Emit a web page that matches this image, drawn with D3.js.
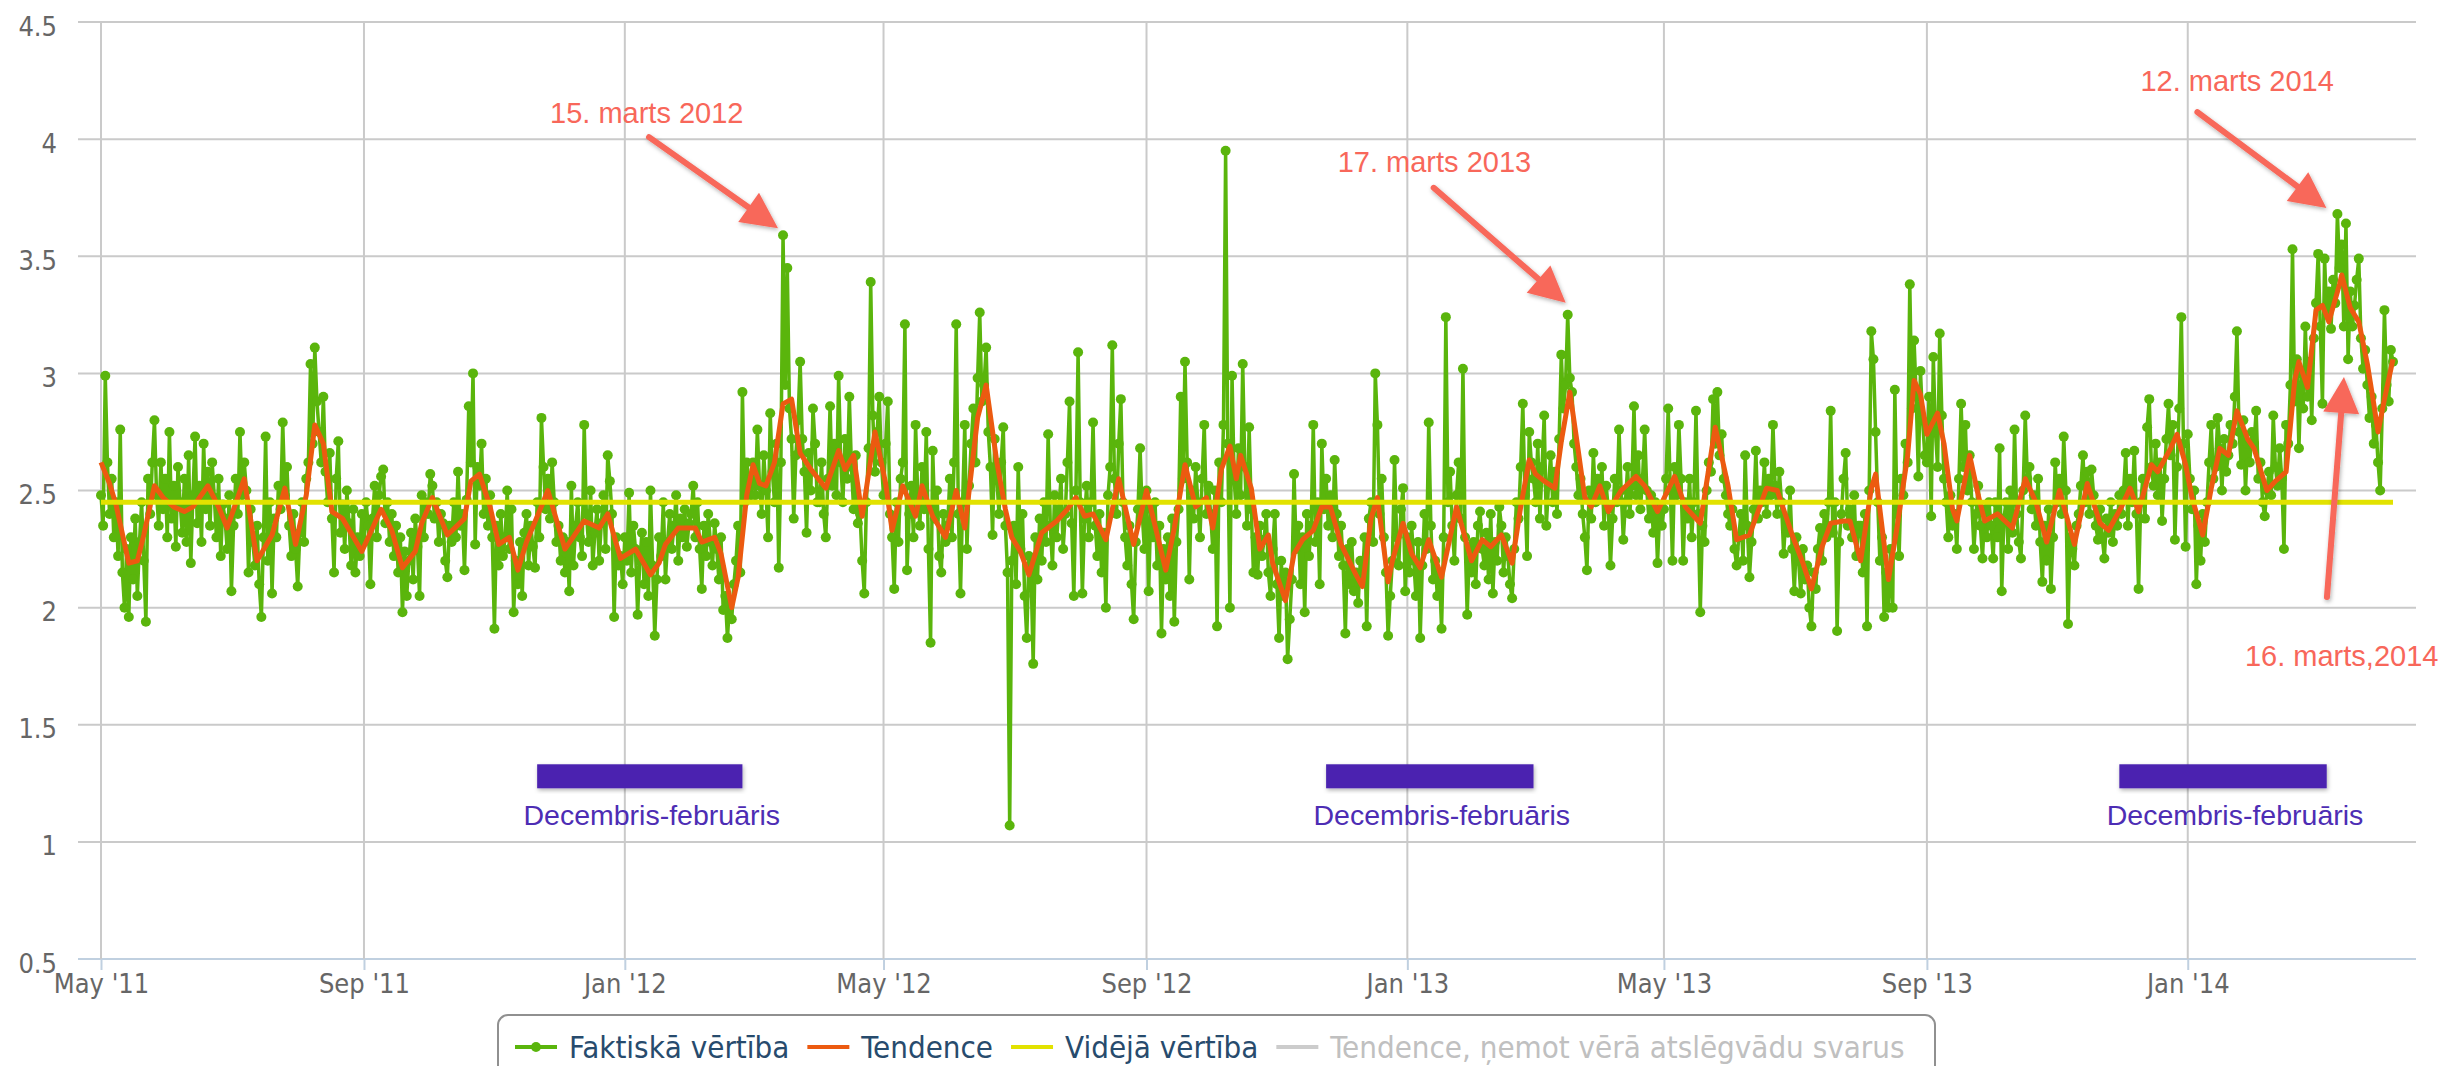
<!DOCTYPE html>
<html>
<head>
<meta charset="utf-8">
<script src="https://cdn.jsdelivr.net/npm/d3@7"></script>
<style>
html, body { margin: 0; padding: 0; background: #fff; overflow: hidden; }
svg { display: block; }
</style>
</head>
<body>
<div id="chart"></div>
<script>
"use strict"

// Daily values ("Faktiskā vērtība"), one array per year, one line per month
var actual2011 = [ // starts 2011-05-01
  2.48,2.35,2.99,2.62,2.40,2.55,2.30,2.45,2.22,2.76,2.15,2.00,2.25,1.96,2.30,2.12,2.38,2.05,2.28,2.45,2.20,1.94,2.55,2.40,2.62,2.80,2.48,2.35,2.62,2.42,2.55,
  2.30,2.75,2.38,2.52,2.26,2.60,2.45,2.32,2.55,2.28,2.65,2.19,2.48,2.73,2.36,2.52,2.28,2.70,2.42,2.58,2.35,2.62,2.47,2.30,2.55,2.22,2.44,2.38,2.25,2.48,
  2.07,2.35,2.55,2.40,2.75,2.48,2.62,2.50,2.15,2.42,2.28,2.18,2.35,2.10,1.96,2.30,2.73,2.20,2.45,2.06,2.38,2.30,2.52,2.42,2.79,2.48,2.60,2.35,2.22,2.40,2.25,
  2.09,2.32,2.45,2.28,2.55,2.62,3.04,2.70,3.11,2.88,2.75,2.62,2.90,2.58,2.45,2.66,2.38,2.15,2.55,2.71,2.32,2.44,2.25,2.50,2.36,2.18,2.42,2.15,2.30,2.22,2.40,
  2.28,2.45,2.35,2.10,2.38,2.52,2.30,2.48,2.56,2.59,2.36,2.45,2.28,2.40,2.22,2.35,2.15,2.30,1.98,2.24,2.05,2.20,2.32,2.12,2.38,2.26,2.05,2.48,2.30,2.45,
  2.40,2.57,2.52,2.38,2.45,2.28,2.40,2.36,2.20,2.13,2.35,2.28,2.45,2.30,2.58,2.35,2.40,2.16,2.46,2.86,2.62,3.00,2.27,2.60,2.52,2.70,2.40,2.55,2.35,2.48,2.30,
  1.91,2.35,2.18,2.40,2.22,2.30,2.50,2.25,2.42,1.98,2.20,2.10,2.28,2.05,2.32,2.40,2.18,2.35,2.26,2.17,2.45,2.30,2.81,2.60,2.42,2.55,2.38,2.62,2.45,2.28,
  2.35,2.20,2.30,2.15,2.28,2.07,2.52,2.18,2.35,2.45,2.30,2.22,2.78,2.40,2.28,2.50,2.18,2.32,2.42,2.20,2.36,2.48,2.25,2.65,2.54,2.40,1.96,2.30,2.18,2.22,2.10
];
var actual2012 = [ // starts 2012-01-01
  2.30,2.20,2.49,2.15,2.35,2.25,1.97,2.20,2.32,2.10,2.28,2.05,2.50,2.18,1.88,2.12,2.30,2.22,2.45,2.12,2.28,2.40,2.25,2.35,2.48,2.20,2.38,2.30,2.42,2.26,2.36,
  2.40,2.52,2.30,2.45,2.25,2.08,2.35,2.22,2.40,2.28,2.18,2.36,2.25,2.12,2.30,1.99,2.05,1.87,2.02,1.95,2.10,2.20,2.35,2.15,2.92,2.45,2.62,2.55,2.48,
  2.62,2.48,2.76,2.52,2.40,2.65,2.50,2.30,2.83,2.58,2.45,2.70,2.17,2.62,3.59,2.95,3.45,2.85,2.72,2.38,2.65,2.80,3.05,2.72,2.58,2.32,2.66,2.50,2.85,2.70,2.45,
  2.45,2.62,2.40,2.30,2.55,2.86,2.52,2.70,2.48,2.99,2.62,2.45,2.72,2.55,2.90,2.60,2.42,2.65,2.36,2.40,2.20,2.06,2.45,2.68,3.39,2.82,2.58,2.75,2.90,2.62,
  2.48,2.70,2.88,2.40,2.30,2.08,2.45,2.28,2.55,2.62,3.21,2.16,2.40,2.52,2.30,2.78,2.48,2.35,2.60,2.42,2.75,2.25,1.85,2.67,2.38,2.50,2.22,2.15,2.40,2.28,2.35,
  2.55,2.30,2.62,3.21,2.40,2.06,2.45,2.78,2.25,2.52,2.70,2.85,2.62,2.98,3.26,2.88,2.95,3.11,2.75,2.60,2.31,2.72,2.55,2.40,2.62,2.77,2.35,2.15,1.07,2.20,
  2.35,2.10,2.60,2.25,2.40,2.05,1.87,2.22,2.15,1.76,2.30,2.12,2.38,2.20,2.45,2.28,2.74,2.35,2.18,2.48,2.30,2.42,2.55,2.25,2.40,2.62,2.88,2.36,2.05,2.50,3.09,
  2.45,2.06,2.38,2.52,2.30,2.45,2.79,2.35,2.22,2.40,2.15,2.32,2.00,2.48,2.60,3.12,2.55,2.40,2.70,2.89,2.45,2.30,2.18,2.35,2.10,1.95,2.28,2.42,2.68,2.40,2.25,
  2.50,2.07,2.42,2.30,2.45,2.18,2.35,1.89,2.25,2.12,2.30,2.05,2.38,1.94,2.28,2.42,2.90,2.55,3.05,2.62,2.12,2.50,2.38,2.60,2.45,2.30,2.55,2.78,2.40,2.52,
  2.40,2.25,2.50,1.92,2.62,2.45,2.78,3.95,2.70,2.00,2.99,2.55,2.40,2.68,2.48,3.04,2.60,2.35,2.77,2.42,2.15,2.30,2.14,2.35,2.22,2.29,2.40,2.15,2.05,2.25,2.40,
  2.10,1.87,2.20,2.05,2.15,1.78,1.95,2.12,2.57,2.25,2.35,2.10,2.30,1.98,2.40,2.22,2.35,2.78,2.28,2.45,2.10,2.70,2.42,2.55,2.35,2.48,2.30,2.63,2.40,2.22,
  2.35,2.18,1.89,2.25,2.10,2.28,2.07,2.15,2.02,2.20,2.12,2.30,1.92,2.38,2.45,2.28,3.00,2.78,2.40,2.55,2.30,2.15,1.88,2.05,2.20,2.63,2.30,2.18,2.42,2.51,2.07
];
var actual2013 = [ // starts 2013-01-01
  2.30,2.15,2.35,2.20,2.05,2.28,1.87,2.18,2.40,2.25,2.79,2.35,2.12,2.20,2.05,2.15,1.91,2.30,3.24,2.45,2.58,2.35,2.20,2.48,2.62,2.38,3.02,2.30,1.97,2.25,2.15,
  2.28,2.10,2.35,2.41,2.25,2.18,2.32,2.12,2.40,2.06,2.28,2.20,2.43,2.35,2.15,2.30,2.22,2.10,2.04,2.25,2.45,2.38,2.60,2.87,2.48,2.22,2.75,2.62,
  2.55,2.45,2.70,2.38,2.60,2.82,2.35,2.52,2.65,2.45,2.58,2.40,2.72,3.08,2.85,2.95,3.25,2.98,2.92,2.70,2.60,2.48,2.55,2.40,2.30,2.16,2.50,2.38,2.66,2.45,2.55,
  2.48,2.60,2.35,2.52,2.42,2.18,2.38,2.55,2.45,2.76,2.50,2.29,2.45,2.60,2.40,2.52,2.86,2.48,2.65,2.42,2.55,2.76,2.50,2.38,2.48,2.32,2.45,2.19,2.40,2.35,
  2.42,2.55,2.85,2.50,2.20,2.60,2.48,2.78,2.55,2.20,2.45,2.38,2.55,2.30,2.45,2.84,2.40,1.98,2.35,2.28,2.50,2.62,2.58,2.89,2.70,2.92,2.65,2.74,2.55,2.48,2.40,
  2.35,2.42,2.25,2.18,2.30,2.40,2.20,2.65,2.35,2.13,2.28,2.42,2.67,2.38,2.50,2.45,2.62,2.40,2.55,2.48,2.78,2.52,2.40,2.58,2.45,2.23,2.38,2.32,2.50,2.25,
  2.07,2.30,2.20,2.06,2.25,2.12,2.18,2.00,1.92,2.15,2.08,2.25,2.34,2.20,2.40,2.30,2.45,2.84,2.32,2.45,1.90,2.28,2.40,2.55,2.66,2.35,2.42,2.30,2.48,2.22,2.35,
  2.35,2.15,2.40,1.92,2.50,3.18,3.06,2.75,2.45,2.20,2.30,1.96,2.15,2.00,2.25,2.00,2.93,2.40,2.22,2.55,2.48,2.70,2.62,3.38,2.85,3.14,2.90,2.56,3.01,2.80,2.65,
  2.62,2.90,2.39,3.07,2.75,2.60,3.17,2.82,2.55,2.45,2.30,2.48,2.35,2.40,2.25,2.55,2.87,2.60,2.78,2.50,2.65,2.45,2.25,2.40,2.52,2.35,2.21,2.42,2.30,2.45,
  2.35,2.21,2.45,2.30,2.68,2.07,2.38,2.45,2.25,2.50,2.32,2.76,2.40,2.28,2.21,2.50,2.82,2.55,2.60,2.42,2.48,2.35,2.55,2.28,2.11,2.35,2.20,2.42,2.08,2.30,2.62,
  2.45,2.55,2.40,2.73,2.50,1.93,2.30,2.25,2.18,2.35,2.40,2.52,2.65,2.45,2.58,2.40,2.59,2.48,2.35,2.29,2.42,2.30,2.21,2.38,2.32,2.45,2.28,2.40,2.35,2.48,
  2.40,2.50,2.66,2.35,2.55,2.45,2.67,2.40,2.08,2.45,2.55,2.38,2.77,2.89,2.60,2.52,2.70,2.48,2.62,2.37,2.55,2.72,2.87,2.65,2.78,2.29,2.60,2.85,3.24,2.70,2.26
];
var actual2014 = [ // starts 2014-01-01
  2.74,2.55,2.42,2.50,2.10,2.35,2.20,2.40,2.28,2.45,2.62,2.78,2.55,2.60,2.81,2.68,2.50,2.72,2.58,2.65,2.78,2.70,2.90,3.18,2.75,2.61,2.80,2.50,2.70,2.62,2.75,
  2.70,2.84,2.55,2.62,2.45,2.39,2.50,2.58,2.48,2.82,2.60,2.52,2.68,2.55,2.25,2.78,2.70,2.95,3.53,2.88,3.06,2.68,3.00,2.85,3.20,2.90,3.05,2.80,
  3.15,3.30,3.51,3.20,2.87,3.49,3.25,3.35,3.19,3.40,3.30,3.68,3.45,3.55,3.20,3.64,3.06,3.35,3.20,3.29,3.40,3.49,3.15,3.02,3.10,2.95,2.81,2.90,2.70,2.78,2.62,
  2.50,2.85,3.27,2.95,2.88,3.10,3.05
];
var actualStarts = ["2011-05-01", "2012-01-01", "2013-01-01", "2014-01-01"];

// "Tendence"
var trend2011 = [
  ["2011-05-01",2.62],["2011-05-05",2.53],["2011-05-08",2.44],["2011-05-14",2.19],["2011-05-18",2.20],["2011-05-21",2.31],
  ["2011-05-26",2.52],["2011-05-30",2.47],["2011-06-04",2.43],["2011-06-09",2.41],["2011-06-13",2.43],["2011-06-20",2.52],
  ["2011-06-25",2.43],["2011-06-29",2.34],["2011-07-07",2.55],["2011-07-13",2.20],["2011-07-20",2.31],["2011-07-26",2.51],
  ["2011-07-31",2.27],["2011-08-05",2.48],["2011-08-09",2.78],["2011-08-13",2.70],["2011-08-17",2.41],["2011-08-22",2.38],
  ["2011-08-31",2.24],["2011-09-09",2.42],["2011-09-14",2.33],["2011-09-19",2.17],["2011-09-25",2.24],["2011-09-28",2.36],
  ["2011-10-03",2.47],["2011-10-10",2.31],["2011-10-18",2.38],["2011-10-21",2.54],["2011-10-25",2.57],["2011-10-30",2.43],
  ["2011-11-03",2.27],["2011-11-08",2.30],["2011-11-12",2.16],["2011-11-16",2.28],["2011-11-22",2.41],["2011-11-26",2.50],
  ["2011-12-04",2.25],["2011-12-13",2.37],["2011-12-20",2.34],["2011-12-24",2.40],["2011-12-30",2.21]
];
var trend2012 = [
  ["2012-01-06",2.25],["2012-01-13",2.14],["2012-01-17",2.19],["2012-01-20",2.27],["2012-01-26",2.34],["2012-02-03",2.34],
  ["2012-02-06",2.28],["2012-02-12",2.30],["2012-02-15",2.23],["2012-02-20",2.00],["2012-02-23",2.13],["2012-02-27",2.48],
  ["2012-03-01",2.61],["2012-03-04",2.53],["2012-03-07",2.52],["2012-03-11",2.62],["2012-03-15",2.87],["2012-03-19",2.89],
  ["2012-03-23",2.66],["2012-03-28",2.59],["2012-04-04",2.51],["2012-04-10",2.67],["2012-04-13",2.59],["2012-04-17",2.65],
  ["2012-04-21",2.39],["2012-04-27",2.75],["2012-05-02",2.53],["2012-05-05",2.33],["2012-05-10",2.52],["2012-05-16",2.39],
  ["2012-05-19",2.52],["2012-05-24",2.39],["2012-05-30",2.30],["2012-06-04",2.50],["2012-06-08",2.34],["2012-06-14",2.81],
  ["2012-06-18",2.95],["2012-06-23",2.62],["2012-06-27",2.42],["2012-06-30",2.30],["2012-07-04",2.24],["2012-07-08",2.14],
  ["2012-07-14",2.32],["2012-07-21",2.37],["2012-07-26",2.42],["2012-07-30",2.47],["2012-08-03",2.39],["2012-08-07",2.40],
  ["2012-08-13",2.29],["2012-08-19",2.55],["2012-08-26",2.27],["2012-09-01",2.50],["2012-09-10",2.16],["2012-09-14",2.34],
  ["2012-09-19",2.61],["2012-09-24",2.43],["2012-09-29",2.47],["2012-10-02",2.34],["2012-10-06",2.59],["2012-10-10",2.69],
  ["2012-10-13",2.55],["2012-10-15",2.65],["2012-10-20",2.51],["2012-10-24",2.25],["2012-10-28",2.31],["2012-10-30",2.19],
  ["2012-11-05",2.03],["2012-11-09",2.23],["2012-11-13",2.29],["2012-11-18",2.33],["2012-11-22",2.43],["2012-11-26",2.43],
  ["2012-12-01",2.27],["2012-12-08",2.14],["2012-12-11",2.09],["2012-12-15",2.38],["2012-12-18",2.47],["2012-12-23",2.11],
  ["2012-12-25",2.20],["2012-12-30",2.36]
];
var trend2013 = [
  ["2013-01-03",2.23],["2013-01-07",2.17],["2013-01-11",2.29],["2013-01-17",2.13],["2013-01-24",2.43],["2013-01-31",2.20],
  ["2013-02-05",2.29],["2013-02-09",2.26],["2013-02-14",2.31],["2013-02-19",2.19],["2013-02-23",2.43],["2013-02-27",2.63],
  ["2013-03-02",2.57],["2013-03-06",2.54],["2013-03-11",2.51],["2013-03-14",2.71],["2013-03-18",2.92],["2013-03-21",2.73],
  ["2013-03-25",2.47],["2013-03-28",2.43],["2013-04-01",2.52],["2013-04-05",2.41],["2013-04-11",2.50],["2013-04-18",2.56],
  ["2013-04-22",2.52],["2013-04-28",2.41],["2013-05-06",2.56],["2013-05-11",2.43],["2013-05-18",2.36],["2013-05-25",2.77],
  ["2013-05-31",2.52],["2013-06-04",2.29],["2013-06-10",2.31],["2013-06-18",2.51],["2013-06-23",2.50],["2013-06-30",2.31],
  ["2013-07-05",2.19],["2013-07-09",2.08],["2013-07-14",2.26],["2013-07-18",2.36],["2013-07-24",2.37],["2013-07-27",2.37],
  ["2013-08-01",2.20],["2013-08-06",2.51],["2013-08-08",2.57],["2013-08-14",2.12],["2013-08-18",2.34],["2013-08-23",2.65],
  ["2013-08-26",2.97],["2013-08-29",2.91],["2013-09-01",2.74],["2013-09-06",2.83],["2013-09-09",2.70],["2013-09-13",2.42],
  ["2013-09-15",2.37],["2013-09-21",2.65],["2013-09-25",2.48],["2013-09-28",2.37],["2013-10-04",2.40],["2013-10-11",2.34],
  ["2013-10-17",2.55],["2013-10-22",2.45],["2013-10-27",2.28],["2013-11-02",2.50],["2013-11-09",2.27],["2013-11-15",2.53],
  ["2013-11-21",2.36],["2013-11-25",2.33],["2013-12-01",2.43],["2013-12-05",2.51],["2013-12-09",2.41],["2013-12-15",2.61],
  ["2013-12-18",2.58],["2013-12-24",2.68],["2013-12-27",2.74],["2013-12-31",2.61]
];
var trend2014 = [
  ["2014-01-03",2.47],["2014-01-08",2.31],["2014-01-12",2.51],["2014-01-16",2.68],["2014-01-20",2.65],["2014-01-24",2.84],
  ["2014-01-29",2.72],["2014-02-01",2.68],["2014-02-07",2.50],["2014-02-11",2.54],["2014-02-16",2.58],["2014-02-20",2.97],
  ["2014-02-22",3.05],["2014-02-26",2.94],["2014-03-02",3.27],["2014-03-05",3.29],["2014-03-08",3.22],["2014-03-13",3.38],
  ["2014-03-14",3.42],["2014-03-18",3.28],["2014-03-22",3.22],["2014-03-26",3.04],["2014-03-29",2.87],["2014-03-31",2.75],
  ["2014-04-03",2.89],["2014-04-07",3.06]
];

var averageValue = 2.45; // "Vidējā vērtība"

var yTicks = [0.5, 1, 1.5, 2, 2.5, 3, 3.5, 4, 4.5];
var xTicks = ["2011-05-01", "2011-09-01", "2012-01-01", "2012-05-01", "2012-09-01",
              "2013-01-01", "2013-05-01", "2013-09-01", "2014-01-01"];
var seriesNames = ["Faktiskā vērtība", "Tendence", "Vidējā vērtība", "Tendence, ņemot vērā atslēgvādu svarus"];

// winter season markers
var seasonStarts = ["2011-11-21", "2012-11-24", "2013-11-30"];
var seasonEnds = ["2012-02-25", "2013-03-01", "2014-03-07"];
var seasonLabel = "Decembris-februāris";
var seasonLevel = 1.28;

// red arrow notes, anchored on the point they point at
var noteLabels = ["15. marts 2012", "17. marts 2013", "12. marts 2014", "16. marts,2014"];
var noteDates = ["2012-03-15", "2013-03-17", "2014-03-12", "2014-03-16"];
var noteValues = [3.59, 3.25, 3.68, 2.98];

// ---- layout / style ----
var width = 2440, height = 1066;
var plot = {left: 78, right: 2416, top: 22, bottom: 959};
var pad = 23; // padding between plot edge and first/last point
var colors = {actual: "#5ab50c", trend: "#ec5a10", average: "#e2e200", hidden: "#cccccc",
              grid: "#cacaca", axis: "#c0d0e0", label: "#666666", legend: "#274b6d",
              note: "#f8675a", season: "#4b22b0"};
var hcFont = "'DejaVu Sans Condensed', 'DejaVu Sans', sans-serif";
var noteFont = "'Liberation Sans', Arial, sans-serif";
// pixel offsets for the arrows: tip from anchor, tail and text from tip
var noteLayout = [
  {tip: [-5, -7], tail: [-129, -91], text: [-228, -105]},
  {tip: [-2, -12], tail: [-132, -115], text: [-228, -131]},
  {tip: [-11, -6], tail: [-129, -96], text: [-186, -117]},
  {tip: [-2, -1], tail: [-17, 220], text: [-99, 289]}
];

var parse = d3.utcParse("%Y-%m-%d");

function daily(values, start) {
  var s = parse(start);
  return values.map(function(v, i) { return [d3.utcDay.offset(s, i), v]; });
}
var actual = [].concat(
  daily(actual2011, actualStarts[0]), daily(actual2012, actualStarts[1]),
  daily(actual2013, actualStarts[2]), daily(actual2014, actualStarts[3]));
var trend = [].concat(trend2011, trend2012, trend2013, trend2014).map(function(d) {
  return [parse(d[0]), d[1]];
});
var firstDay = actual[0][0], lastDay = actual[actual.length - 1][0];

var xScale = d3.scaleUtc().domain([firstDay, lastDay]).range([plot.left + pad, plot.right - pad]);
var yScale = d3.scaleLinear().domain([0.5, 4.5]).range([plot.bottom, plot.top]);

var svg = d3.select("#chart").append("svg")
    .attr("width", width)
    .attr("height", height);

var defs = svg.append("defs");
var shadow = defs.append("filter").attr("id", "shadow")
    .attr("x", "-20%").attr("y", "-20%").attr("width", "140%").attr("height", "140%");
shadow.append("feDropShadow").attr("dx", 1).attr("dy", 2).attr("stdDeviation", 2)
    .attr("flood-color", "#000").attr("flood-opacity", 0.3);

svg.append("rect").attr("width", width).attr("height", height).attr("fill", "#fff");

// Grid
var grid = svg.append("g").attr("class", "grid");
grid.selectAll(".hgrid").data(yTicks).enter().append("line")
    .attr("x1", plot.left).attr("x2", plot.right)
    .attr("y1", function(d) { return yScale(d); })
    .attr("y2", function(d) { return yScale(d); })
    .attr("stroke", function(d) { return d === 0.5 ? colors.axis : colors.grid; })
    .attr("stroke-width", 2);
grid.selectAll(".vgrid").data(xTicks).enter().append("line")
    .attr("x1", function(d) { return xScale(parse(d)); })
    .attr("x2", function(d) { return xScale(parse(d)); })
    .attr("y1", plot.top).attr("y2", plot.bottom)
    .attr("stroke", colors.grid)
    .attr("stroke-width", 2);

// Axes
var yAxis = d3.axisLeft(yScale).tickValues(yTicks).tickSize(0).tickPadding(21)
    .tickFormat(d3.format("~g"));
var gy = svg.append("g").attr("transform", "translate(" + plot.left + ",0)").call(yAxis);
gy.select(".domain").remove();
gy.selectAll("text")
    .attr("dy", "13px")
    .style("font-family", hcFont).style("font-size", "27px").style("fill", colors.label);

var xAxis = d3.axisBottom(xScale).tickValues(xTicks.map(parse)).tickSize(11).tickPadding(4)
    .tickFormat(d3.utcFormat("%b '%y"));
var gx = svg.append("g").attr("transform", "translate(0," + plot.bottom + ")").call(xAxis);
gx.select(".domain").remove();
gx.selectAll("line").attr("stroke", colors.axis).attr("stroke-width", 2);
gx.selectAll("text")
    .style("font-family", hcFont).style("font-size", "27px").style("fill", colors.label);

// Season bars
var seasons = seasonStarts.map(function(s, i) { return [parse(s), parse(seasonEnds[i])]; });
var sg = svg.append("g").attr("class", "seasons");
sg.selectAll("rect").data(seasons).enter().append("rect")
    .attr("x", function(d) { return xScale(d[0]); })
    .attr("width", function(d) { return xScale(d[1]) - xScale(d[0]); })
    .attr("y", yScale(seasonLevel) - 12)
    .attr("height", 24)
    .attr("fill", colors.season)
    .attr("filter", "url(#shadow)");
sg.selectAll("text").data(seasons).enter().append("text")
    .attr("x", function(d) { return (xScale(d[0]) + xScale(d[1])) / 2 + 12; })
    .attr("y", yScale(seasonLevel) + 49)
    .attr("text-anchor", "middle")
    .style("font-family", noteFont).style("font-size", "28.5px").style("fill", "#4d2db4")
    .text(seasonLabel);

// Series
var line = d3.line().x(function(d) { return xScale(d[0]); }).y(function(d) { return yScale(d[1]); });

var ga = svg.append("g").attr("class", "actual");
ga.append("path").datum(actual)
    .attr("fill", "none").attr("stroke", colors.actual).attr("stroke-width", 3.5)
    .attr("stroke-linejoin", "round").attr("d", line);
ga.selectAll("circle").data(actual).enter().append("circle")
    .attr("cx", function(d) { return xScale(d[0]); })
    .attr("cy", function(d) { return yScale(d[1]); })
    .attr("r", 5)
    .attr("fill", colors.actual);

svg.append("path").datum(trend)
    .attr("fill", "none").attr("stroke", colors.trend).attr("stroke-width", 5)
    .attr("stroke-linejoin", "round").attr("d", line);

svg.append("path").datum([[firstDay, averageValue], [lastDay, averageValue]])
    .attr("fill", "none").attr("stroke", colors.average).attr("stroke-width", 5)
    .attr("d", line);

// Notes with arrows
var ng = svg.append("g").attr("class", "notes");
noteLabels.forEach(function(label, i) {
  var lay = noteLayout[i];
  var ax = xScale(parse(noteDates[i])), ay = yScale(noteValues[i]);
  var tip = [ax + lay.tip[0], ay + lay.tip[1]];
  var tail = [tip[0] + lay.tail[0], tip[1] + lay.tail[1]];
  var dx = tip[0] - tail[0], dy = tip[1] - tail[1];
  var len = Math.sqrt(dx * dx + dy * dy);
  var ux = dx / len, uy = dy / len, nx = -uy, ny = ux;
  var headLen = 36, headW = 18;
  var bx = tip[0] - ux * headLen, by = tip[1] - uy * headLen;
  var arrow = ng.append("g").attr("filter", "url(#shadow)");
  arrow.append("line")
      .attr("x1", tail[0]).attr("y1", tail[1])
      .attr("x2", bx + ux * 4).attr("y2", by + uy * 4)
      .attr("stroke", colors.note).attr("stroke-width", 6).attr("stroke-linecap", "round");
  arrow.append("path")
      .attr("d", "M" + tip[0] + "," + tip[1] +
                 "L" + (bx + nx * headW) + "," + (by + ny * headW) +
                 "L" + (bx - nx * headW) + "," + (by - ny * headW) + "Z")
      .attr("fill", colors.note);
  ng.append("text")
      .attr("x", tip[0] + lay.text[0]).attr("y", tip[1] + lay.text[1])
      .style("font-family", noteFont).style("font-size", "29px").style("fill", colors.note)
      .text(label);
});

// Legend
var lg = svg.append("g").attr("class", "legend");
lg.append("rect")
    .attr("x", 498).attr("y", 1015).attr("width", 1437).attr("height", 80)
    .attr("rx", 10).attr("fill", "#fff").attr("stroke", "#909090").attr("stroke-width", 2);
var legendColors = [colors.actual, colors.trend, colors.average, colors.hidden];
var lx = 515, ly = 1047;
seriesNames.forEach(function(name, i) {
  lg.append("line")
      .attr("x1", lx).attr("x2", lx + 42).attr("y1", ly).attr("y2", ly)
      .attr("stroke", legendColors[i]).attr("stroke-width", 4);
  if (i === 0) {
    lg.append("circle").attr("cx", lx + 21).attr("cy", ly).attr("r", 5).attr("fill", colors.actual);
  }
  var t = lg.append("text")
      .attr("x", lx + 54).attr("y", ly + 11)
      .style("font-family", hcFont).style("font-size", "31px")
      .style("fill", i === 3 ? "#c0c0c0" : colors.legend)
      .text(name);
  lx = lx + 54 + t.node().getComputedTextLength() + 18;
});
</script>
</body>
</html>
